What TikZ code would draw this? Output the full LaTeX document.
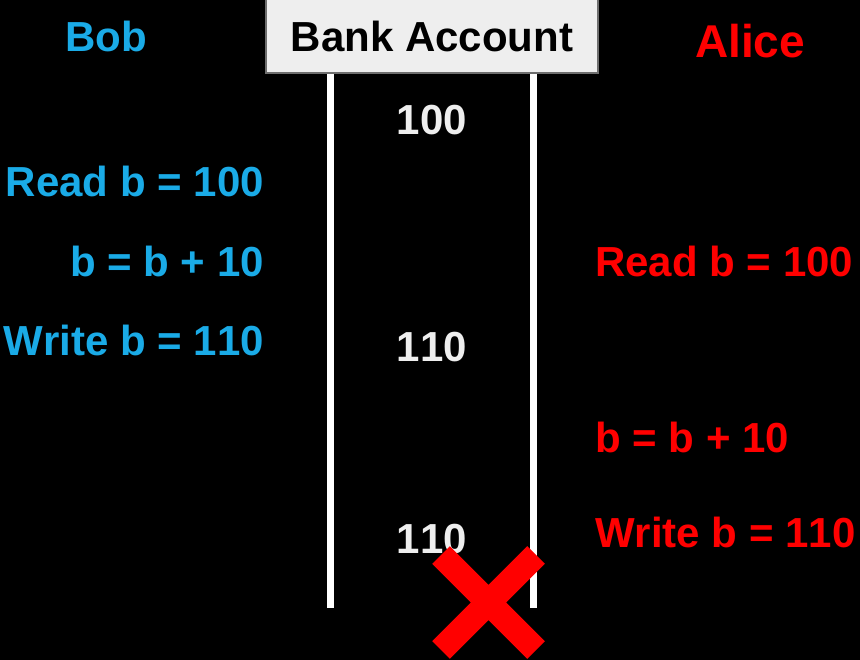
\documentclass[tikz,border=0pt]{standalone}
\usepackage{fontspec}
\setmainfont[Kerning=Off]{Liberation Sans}
\definecolor{bobblue}{RGB}{26,171,231}
\definecolor{acctgray}{RGB}{238,238,238}
\definecolor{edgegray}{RGB}{110,110,110}
\begin{document}
\begin{tikzpicture}[x=1pt,y=-1pt,
    big/.style={font=\fontsize{42}{50}\selectfont\bfseries,inner sep=0pt},
    bob node/.style={big,text=bobblue,anchor=base east},
    alice node/.style={big,text=red,anchor=base west},
    value node/.style={big,text=acctgray,anchor=base},
    rail/.style={draw=white,line width=7pt},
    cross/.style={draw=red,line width=25pt}]
    \useasboundingbox (0,0) rectangle (860,660);
    \fill[black] (0,0) rectangle (860,660);

    % account box and its two rails
    \node[big,draw=edgegray,line width=2pt,fill=acctgray,text=black,minimum width=332pt,minimum height=75pt] at (432,36) (acct) {Bank Account};
    \coordinate (ltop) at (330,74);
    \coordinate (lbot) at (330,608);
    \coordinate (rtop) at (533,74);
    \coordinate (rbot) at (533,608);
    \draw[rail] (ltop) -- (lbot);
    \draw[rail] (rtop) -- (rbot);

    % values
    \node[value node] at (432,135) (v1) {100};
    \node[value node] at (432,362) (v2) {110};
    \node[value node] at (432,553) (v3) {110};

    % Bob
    \node[big,text=bobblue,anchor=base] at (106,52) (bob) {Bob};
    \node[bob node] at (264,197) (b1) {Read b = 100};
    \node[bob node] at (264,277) (b2) {b = b + 10};
    \node[bob node] at (264,356) (b3) {Write b = 110};

    % Alice
    \node[big,text=red,anchor=base,font=\fontsize{46}{54}\selectfont\bfseries] at (750,58) (alice) {Alice};
    \node[alice node] at (595,277) (a1) {Read b = 100};
    \node[alice node] at (595,452) (a2) {b = b + 10};
    \node[alice node] at (595,547) (a3) {Write b = 110};

    % lost update
    \coordinate (xa) at (441,555);
    \coordinate (xb) at (536,555);
    \coordinate (xc) at (441,650);
    \coordinate (xd) at (536,650);
    \draw[cross] (xa) -- (xd) (xb) -- (xc);
\end{tikzpicture}
\end{document}
